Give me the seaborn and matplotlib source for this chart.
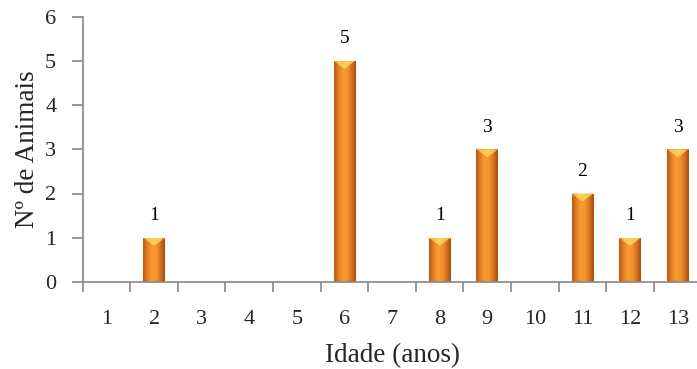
import numpy as np
import matplotlib
matplotlib.use("Agg")
import matplotlib.pyplot as plt
from matplotlib.colors import LinearSegmentedColormap
from matplotlib.patches import Polygon
import seaborn as sns
import pandas as pd

ages = ["1", "2", "3", "4", "5", "6", "7", "8", "9", "10", "11", "12", "13"]
counts = [0, 1, 0, 0, 0, 5, 0, 1, 3, 0, 2, 1, 3]
y_ticks = [0, 1, 2, 3, 4, 5, 6]
x_label = "Idade (anos)"
y_label = "Nº de Animais"

sns.set_style("white")
plt.rcParams["font.family"] = ["Liberation Serif", "DejaVu Serif"]

df = pd.DataFrame({"Idade": ages, "N": counts})

fig = plt.figure(figsize=(6.97, 3.69), dpi=100)
ax = fig.add_axes([82.7 / 697, 87 / 369, 618.8 / 697, 265.5 / 369])

sns.barplot(data=df, x="Idade", y="N", color="#F28A28", width=0.46,
            ax=ax, saturation=1, edgecolor="none")

ax.set_ylim(0, 6)
ax.set_xlim(-0.5, len(ages) - 0.5)

cmap = LinearSegmentedColormap.from_list(
    "bar", ["#B85C16", "#E57F26", "#FA9A33", "#F79331", "#D7731F", "#A44F0E"])
tri_cmap = LinearSegmentedColormap.from_list(
    "tri", ["#F2A23A", "#FCC44E", "#FDD05A", "#FCC44E", "#F2A23A"])
grad = np.linspace(0, 1, 64).reshape(1, -1)
px_per_unit = ax.get_position().height * 369 / 6

for p, v in zip(ax.patches, counts):
    x0, w, h = p.get_x(), p.get_width(), p.get_height()
    if h <= 0:
        continue
    p.set_facecolor("none")
    im = ax.imshow(grad, cmap=cmap, aspect="auto",
                   extent=(x0, x0 + w, 0, h), zorder=2, interpolation="bicubic")
    im.set_clip_path(p)
    d = 8 / px_per_unit
    tri = Polygon([(x0, h), (x0 + w, h), (x0 + w / 2, h - d)], closed=True,
                  facecolor="none", edgecolor="none", zorder=3)
    ax.add_patch(tri)
    im2 = ax.imshow(grad, cmap=tri_cmap, aspect="auto",
                    extent=(x0, x0 + w, h - d, h), zorder=3, interpolation="bicubic")
    im2.set_clip_path(tri)
    ax.text(x0 + w / 2, h + 22 / px_per_unit, str(v), ha="center", va="center",
            fontsize=14, color="black")

ax.set_xlim(-0.5, len(ages) - 0.5)
ax.set_ylim(0, 6)

for s in ["top", "right"]:
    ax.spines[s].set_visible(False)
for s in ["left", "bottom"]:
    ax.spines[s].set_color("#868686")
    ax.spines[s].set_linewidth(1.2)

ax.set_yticks(y_ticks)
ax.tick_params(axis="y", which="major", direction="out", length=8, width=1.2,
               color="#868686", labelsize=16, pad=11, left=True)
ax.set_xticks(np.arange(-0.5, len(ages), 1.0), minor=True)
ax.tick_params(axis="x", which="minor", direction="out", length=7, width=1.2,
               color="#868686", bottom=True)
ax.tick_params(axis="x", which="major", length=0, labelsize=16, pad=20)

ax.set_xlabel(x_label, fontsize=19.5, labelpad=10)
ax.set_ylabel(y_label, fontsize=19.5, labelpad=4)

fig.savefig("out.png", dpi=100)
